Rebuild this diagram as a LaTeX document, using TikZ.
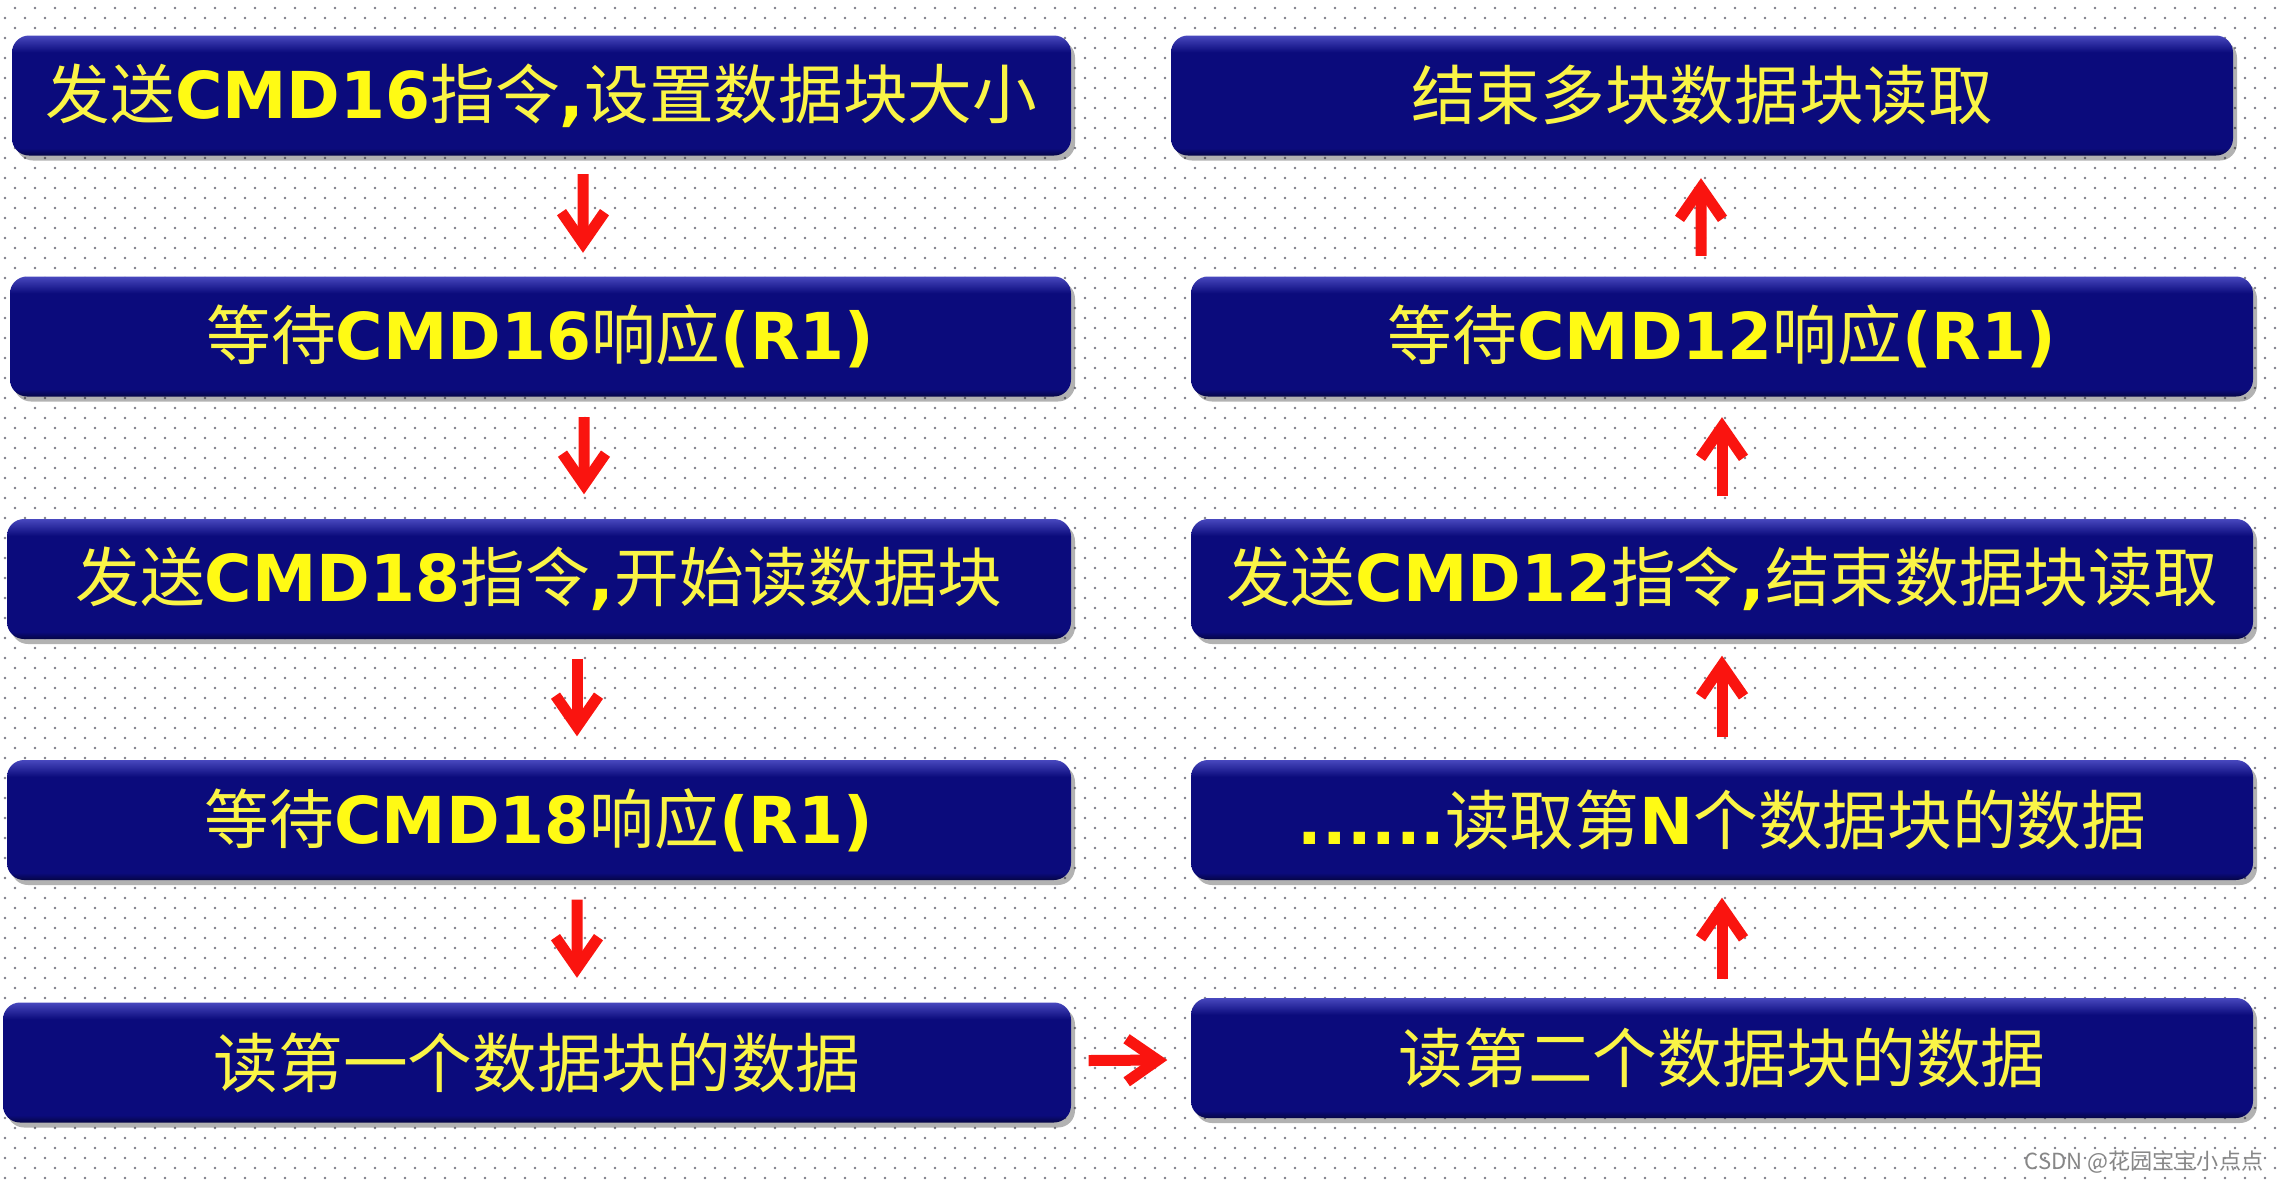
\documentclass[tikz,border=0pt]{standalone}
\usepackage{fontspec}
\setmainfont{DejaVu Sans}
\newfontfamily\cjkfont{Noto Sans CJK SC}
\newfontfamily\latfont{DejaVu Sans}
\usetikzlibrary{arrows.meta,shadows,patterns}
\definecolor{bD}{RGB}{5,5,70}
\definecolor{bM}{RGB}{11,11,124}
\definecolor{bL}{RGB}{72,72,190}
\definecolor{ylw}{RGB}{255,250,20}
\definecolor{ylwC}{RGB}{250,244,70}
\definecolor{arrred}{RGB}{250,20,15}
\definecolor{dotgray}{RGB}{125,125,135}
\definecolor{wmgray}{RGB}{135,135,135}
\pgfdeclareverticalshading{boxshade}{100bp}{color(0bp)=(bD); color(25bp)=(bD); color(28bp)=(bM); color(68bp)=(bM); color(75bp)=(bL); color(100bp)=(bL)}
\pgfdeclarepatternformonly{bgdots}{\pgfpoint{0mm}{0mm}}{\pgfpoint{2mm}{2mm}}{\pgfpoint{2mm}{2mm}}{%
  \pgfpathcircle{\pgfpoint{0.5mm}{0.5mm}}{0.13mm}%
  \pgfpathcircle{\pgfpoint{1.5mm}{1.5mm}}{0.13mm}%
  \pgfusepath{fill}}
\newcommand\zhT[1]{{\cjkfont\color{ylwC}#1}}
\newcommand\enB[1]{{\latfont\bfseries\color{ylw}#1}}
\tikzset{
  box/.style={rectangle, rounded corners=1.7mm, minimum height=12mm, inner sep=0pt,
    shading=boxshade, text=ylw, font=\fontsize{18.4pt}{20pt}\selectfont,
    drop shadow={shadow xshift=0.4mm, shadow yshift=-0.5mm, fill=black, opacity=0.3}},
  arr/.style={draw=arrred, line width=1.1mm,
    -{Straight Barb[length=3.1mm, width=4.3mm]}},
  wm/.style={font=\cjkfont\fontsize{6.3pt}{7pt}\selectfont, text=wmgray, inner sep=0pt}
}
\begin{document}
\begin{tikzpicture}[x=0.1mm, y=-0.1mm]
\useasboundingbox (0,0) rectangle (2278,1182);
\fill[white] (0,0) rectangle (2278,1182);
\fill[pattern=bgdots, pattern color=dotgray] (0,0) rectangle (2278,1182);
% left column
\node[box, minimum width=105.9mm] (L1) at (541.5,95.5) {\zhT{发送}\enB{CMD16}\zhT{指令}\enB{,}\zhT{设置数据块大小}};
\node[box, minimum width=106.1mm] (L2) at (540.5,336.5) {\zhT{等待}\enB{CMD16}\zhT{响应}\enB{(R1)}};
\node[box, minimum width=106.4mm] (L3) at (539,579) {\zhT{发送}\enB{CMD18}\zhT{指令}\enB{,}\zhT{开始读数据块}};
\node[box, minimum width=106.4mm] (L4) at (539,820) {\zhT{等待}\enB{CMD18}\zhT{响应}\enB{(R1)}};
\node[box, minimum width=106.8mm] (L5) at (537,1062.5) {\zhT{读第一个数据块的数据}};
% right column
\node[box, minimum width=106.2mm] (R1) at (1702,95.5) {\zhT{结束多块数据块读取}};
\node[box, minimum width=106.2mm] (R2) at (1722,336.5) {\zhT{等待}\enB{CMD12}\zhT{响应}\enB{(R1)}};
\node[box, minimum width=106.2mm] (R3) at (1722,579) {\zhT{发送}\enB{CMD12}\zhT{指令}\enB{,}\zhT{结束数据块读取}};
\node[box, minimum width=106.2mm] (R4) at (1722,820) {\enB{......}\zhT{读取第}\enB{N}\zhT{个数据块的数据}};
\node[box, minimum width=106.2mm] (R5) at (1722,1058) {\zhT{读第二个数据块的数据}};
% arrows
\draw[arr] ([xshift=4.15mm,yshift=-1.8mm]L1.south) -- ([xshift=4.25mm,yshift=2.3mm]L2.north);
\draw[arr] ([xshift=4.35mm,yshift=-2mm]L2.south) -- ([xshift=4.5mm,yshift=2.4mm]L3.north);
\draw[arr] ([xshift=3.8mm,yshift=-1.9mm]L3.south) -- ([xshift=3.8mm,yshift=2.3mm]L4.north);
\draw[arr] ([xshift=3.8mm,yshift=-1.9mm]L4.south) -- ([xshift=4mm,yshift=2.4mm]L5.north);
\draw[arr] ([xshift=1.7mm,yshift=0.2mm]L5.east) -- ([xshift=-2.3mm,yshift=-0.2mm]R5.west);
\draw[arr] ([yshift=1.8mm]R5.north) -- ([yshift=-1.7mm]R4.south);
\draw[arr] ([yshift=2.2mm]R4.north) -- ([yshift=-1.6mm]R3.south);
\draw[arr] ([yshift=2.2mm]R3.north) -- ([yshift=-2mm]R2.south);
\draw[arr] ([xshift=-2.1mm,yshift=2mm]R2.north) -- ([xshift=-0.1mm,yshift=-2.2mm]R1.south);
% watermark
\node[wm, anchor=east] (wm) at (2264,1162) {CSDN @花园宝宝小点点};
\end{tikzpicture}
\end{document}
